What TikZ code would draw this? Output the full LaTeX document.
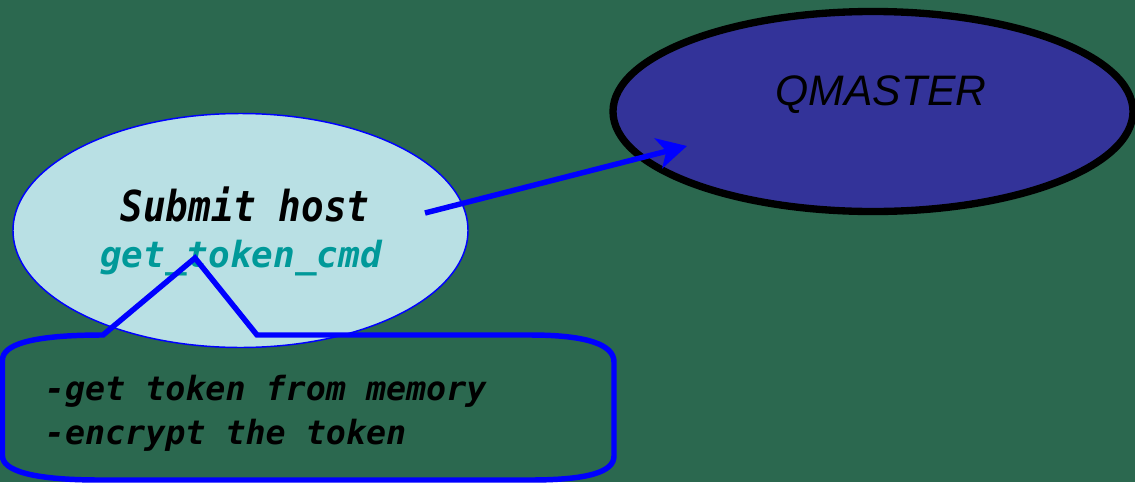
\documentclass[tikz,border=0pt]{standalone}
\usepackage{fontspec}
\usetikzlibrary{arrows.meta}
\newfontfamily\typefont{DejaVu Sans Mono}
\newfontfamily\hostfont[FakeStretch=0.88]{DejaVu Sans Mono}
\newfontfamily\masterfont{Liberation Sans}
\definecolor{boardgreen}{RGB}{43,104,79}
\definecolor{hostfill}{RGB}{185,224,228}
\definecolor{masterfill}{RGB}{51,51,153}
\definecolor{cmdteal}{RGB}{0,153,153}
\tikzset{every picture/.style={line width=0.75pt}}
\tikzset{
	hosttext/.style={font={\hostfont\fontsize{32}{36}\selectfont\bfseries\itshape}},
	cmdtext/.style={text=cmdteal, font={\typefont\fontsize{27}{32}\selectfont\bfseries\itshape}},
	steptext/.style={anchor=base west, font={\typefont\fontsize{25}{30}\selectfont\bfseries\itshape}},
	mastertext/.style={font={\masterfont\fontsize{32}{36}\selectfont\itshape}}}

\begin{document}
\begin{tikzpicture}[x=0.75pt,y=0.75pt,yscale=-1,xscale=1]
	%Background
	\fill [boardgreen] (0,0) rectangle (1135,482) ;
	\useasboundingbox (0,0) rectangle (1135,482) ;

	%Shape: Ellipse [submit host]
	\draw [color=blue, fill=hostfill, line width=1.1] (240.5,230.5) ellipse (227.5 and 117) ;
	%Shape: Ellipse [qmaster]
	\draw [color=black, fill=masterfill, line width=5.5] (873,111.5) ellipse (260 and 100) ;

	% Text Node
	\draw (881,105) node [mastertext, anchor=base] (master) {QMASTER};
	% Text Node
	\draw (245,221) node [hosttext, anchor=base] (host) {Submit host};
	% Text Node
	\draw (241,267) node [cmdtext, anchor=base] (cmd) {get\_token\_cmd};
	% Text Node
	\draw (40,400) node [steptext] (memline) {-get token from memory};
	% Text Node
	\draw (40,444) node [steptext] (encline) {-encrypt the token};

	%Shape: Callout
	\draw [color=blue, line width=4.1, line join=miter] (257,335) -- (530,335) .. controls (588,335) and (614,345) .. (614,362) -- (614,456) .. controls (614,472) and (588,480) .. (530,480) -- (100,480) .. controls (30,480) and (2.5,470) .. (2.5,456) -- (2.5,360) .. controls (2.5,345) and (30,335) .. (103,335) -- (195,258) -- cycle ;

	%Straight Lines [host to qmaster]
	\coordinate (sendfrom) at (425,213) ;
	\coordinate (sendto) at (687,146) ;
	\draw [color=blue, line width=4.1, -{Stealth[length=22pt, width=23pt, inset=6pt]}] (sendfrom) -- (sendto) ;

\end{tikzpicture}
\end{document}
